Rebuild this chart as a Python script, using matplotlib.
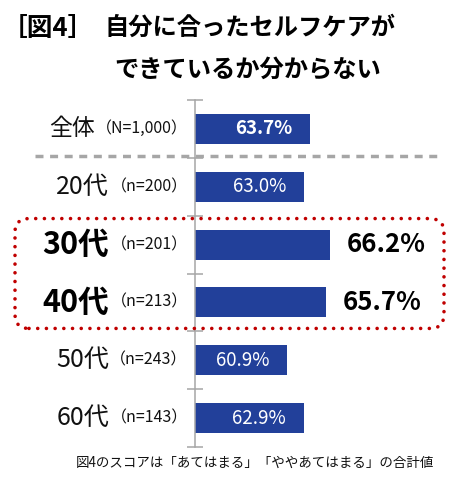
import numpy as np
import matplotlib
matplotlib.use('Agg')
import matplotlib.pyplot as plt
from matplotlib.patches import FancyBboxPatch
from matplotlib.transforms import IdentityTransform

plt.rcParams['font.family'] = ['Noto Sans CJK JP', 'DejaVu Sans']

groups = ['全体', '20代', '30代', '40代', '50代', '60代']
counts = ['（N=1,000）', '（n=200）', '（n=201）', '（n=213）', '（n=243）', '（n=143）']
scores = [63.7, 63.0, 66.2, 65.7, 60.9, 62.9]
highlight = [False, False, True, True, False, False]
bold_value = [True, False, True, True, False, False]

W, H = 462, 488
fig = plt.figure(figsize=(W / 100, H / 100), dpi=100)
ax = fig.add_axes([195 / W, 1 - 447 / H, 243 / W, 347 / H])

y = np.arange(len(groups))
ax.barh(y, scores, height=0.52, color='#22409A')
ax.set_xlim(49.5, 79.5)
ax.set_ylim(len(groups) - 0.5, -0.5)

for s in ['top', 'right', 'bottom']:
    ax.spines[s].set_visible(False)
ax.spines['left'].set_color('#A6A6A6')
ax.spines['left'].set_linewidth(1.1)
ax.set_xticks([])
ax.set_yticks([])
ax.set_yticks(np.arange(-0.5, len(groups), 1), minor=True)
ax.tick_params(axis='y', which='minor', direction='inout', length=11,
               color='#A6A6A6', width=1.1, labelleft=False)

# category labels
for i, (g, c) in enumerate(zip(groups, counts)):
    t = ax.text(-0.03, i, c, transform=ax.get_yaxis_transform(),
                ha='right', va='center', fontsize=11.5, color='#111111')
    if highlight[i]:
        ax.annotate(g, xy=(0, 0.5), xycoords=t, xytext=(-1, 0),
                    textcoords='offset points', ha='right', va='center',
                    fontsize=22, fontweight='bold', color='black')
    else:
        ax.annotate(g, xy=(0, 0.5), xycoords=t, xytext=(-1, 0),
                    textcoords='offset points', ha='right', va='center',
                    fontsize=16.5 if i == 0 else 18, color='#111111')

# value labels
for i, v in enumerate(scores):
    if highlight[i]:
        ax.annotate(f'{v:.1f}%', xy=(v, i), xytext=(12, 0),
                    textcoords='offset points', ha='left', va='center',
                    fontsize=18.5, fontweight='bold', color='black')
    else:
        ax.annotate(f'{v:.1f}%', xy=(v, i), xytext=(-13, 0),
                    textcoords='offset points', ha='right', va='center',
                    fontsize=13.5, color='white',
                    fontweight='bold' if bold_value[i] else 'normal')

# separator under total
ax.axhline(0.47, xmin=(35 - 195) / 243, xmax=(440 - 195) / 243,
           color='#A6A6A6', lw=2.5, linestyle=(0, (2.3, 1.9)), clip_on=False)

# dotted highlight box around 30s/40s
ys = ax.transData.transform([(50, 1.55), (50, 3.45)])[:, 1]
y_lo, y_hi = ys.min(), ys.max()
box = FancyBboxPatch((15, y_lo), 429, y_hi - y_lo,
                     boxstyle='round,pad=0,rounding_size=14',
                     transform=IdentityTransform(), fill=False,
                     edgecolor='#C00000', lw=2.6,
                     linestyle=(0, (0.01, 2.4)), capstyle='round')
fig.add_artist(box)

# title
fig.text(2 / W, 1 - 28 / H, '［図4］', fontsize=18.5, fontweight='bold',
         ha='left', va='center', color='black')
fig.text(104 / W, 1 - 28 / H, '自分に合ったセルフケアが', fontsize=17.5,
         fontweight='bold', ha='left', va='center', color='black')
fig.text(114 / W, 1 - 71 / H, 'できているか分からない', fontsize=17.5,
         fontweight='bold', ha='left', va='center', color='black')

fig.text(434 / W, 1 - 463 / H, '図4のスコアは「あてはまる」「ややあてはまる」の合計値',
         fontsize=9.7, ha='right', va='center', color='#111111')

fig.savefig('out.png', dpi=100)
